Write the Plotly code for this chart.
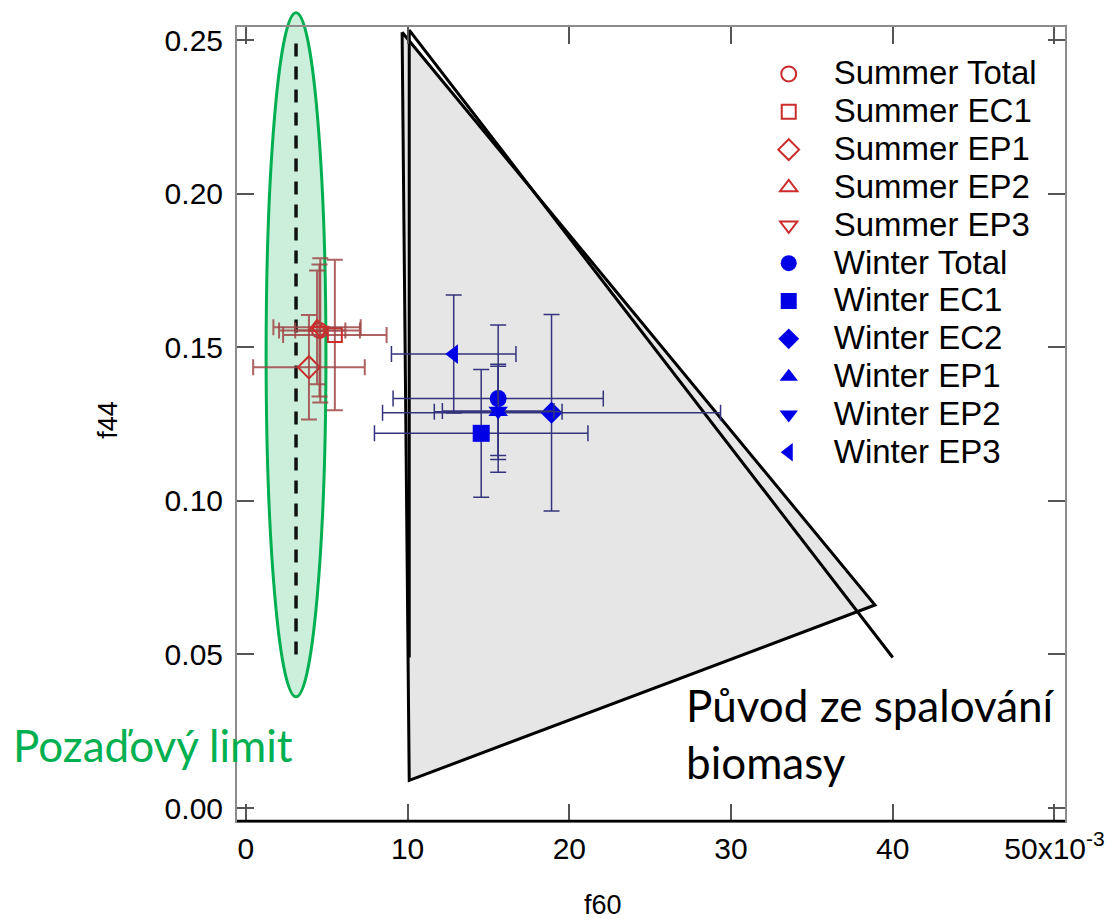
import plotly.graph_objects as go

# ---------------- data ----------------
series_names = ["Summer Total", "Summer EC1", "Summer EP1", "Summer EP2", "Summer EP3",
                "Winter Total", "Winter EC1", "Winter EC2", "Winter EP1", "Winter EP2", "Winter EP3"]
f60_values = [0.00455, 0.0055, 0.0039, 0.0044, 0.0046,
              0.0156, 0.01455, 0.0189, 0.0156, 0.0156, 0.01285]
f44_values = [0.1555, 0.1540, 0.1435, 0.1565, 0.1555,
              0.1333, 0.1220, 0.1287, 0.1290, 0.1293, 0.1478]
f60_errors = [0.0025, 0.0032, 0.00345, 0.0027, 0.00155,
              0.0065, 0.0066, 0.01045, 0.00395, 0.00345, 0.00385]
f44_errors = [0.0215, 0.0245, 0.0170, 0.0185, 0.0235,
              0.0240, 0.0208, 0.0320, 0.0155, 0.0145, 0.0192]

# biomass-burning triangle (filled, closed) and its outline "V"
bb_triangle_f60 = [0.00966, 0.0101, 0.0389, 0.00966]
bb_triangle_f44 = [0.2526, 0.0090, 0.0661, 0.2526]
bb_edge_f60 = [0.0400, 0.0101, 0.0101]
bb_edge_f44 = [0.0490, 0.2533, 0.0490]

# background limit (dashed line + ellipse)
bg_limit_f60 = [0.0031, 0.0031]
bg_limit_f44 = [0.0500, 0.2520]
bg_ellipse_f60 = [0.00125, 0.00495]
bg_ellipse_f44 = [0.0362, 0.2589]

x_tickvals = [0.0, 0.01, 0.02, 0.03, 0.04, 0.05]
x_ticktext = ["0", "10", "20", "30", "40", "50x10<sup>-3</sup>"]
y_tickvals = [0.0, 0.05, 0.10, 0.15, 0.20, 0.25]

# ---------------- styles ----------------
symbols = ["circle-open", "square-open", "diamond-open", "triangle-up-open", "triangle-down-open",
           "circle", "square", "diamond", "triangle-up", "triangle-down", "triangle-left"]
marker_sizes = [15, 14, 17, 15, 15, 17, 17, 17, 17, 17, 17]
SUMMER_C = "#cc2b2b"
WINTER_C = "#0000e6"
SUMMER_ERR = "rgba(160,70,70,0.85)"
WINTER_ERR = "#34347e"

X_RANGE = [-0.00055, 0.05065]
Y_RANGE = [-0.00423, 0.2543]
FONT = "Liberation Sans, Arial, sans-serif"

fig = go.Figure()

# grey triangle
fig.add_trace(go.Scatter(x=bb_triangle_f60, y=bb_triangle_f44, mode="lines", fill="toself",
                         fillcolor="#e6e6e6", line=dict(color="black", width=3),
                         showlegend=False, hoverinfo="skip"))
fig.add_trace(go.Scatter(x=bb_edge_f60, y=bb_edge_f44, mode="lines",
                         line=dict(color="black", width=3),
                         showlegend=False, hoverinfo="skip"))
# dashed background limit
fig.add_trace(go.Scatter(x=bg_limit_f60, y=bg_limit_f44, mode="lines",
                         line=dict(color="#111111", width=3.5, dash="13px,10px"),
                         showlegend=False, hoverinfo="skip"))

for i, name in enumerate(series_names):
    summer = name.startswith("Summer")
    mc = SUMMER_C if summer else WINTER_C
    ec = SUMMER_ERR if summer else WINTER_ERR
    fig.add_trace(go.Scatter(
        x=[f60_values[i]], y=[f44_values[i]], mode="markers",
        name=f'<span style="font-size:33px">{name}</span>',
        marker=dict(symbol=symbols[i], size=marker_sizes[i], color=mc,
                    line=dict(color=mc, width=2 if summer else 0)),
        error_x=dict(type="data", array=[f60_errors[i]], color=ec,
                     thickness=2 if summer else 1.5, width=8),
        error_y=dict(type="data", array=[f44_errors[i]], color=ec,
                     thickness=2 if summer else 1.5, width=8),
    ))

def ypaper(v):
    return (v - Y_RANGE[0]) / (Y_RANGE[1] - Y_RANGE[0])

shapes = [
    dict(type="circle", xref="x", yref="paper", layer="below",
         x0=bg_ellipse_f60[0], x1=bg_ellipse_f60[1],
         y0=ypaper(bg_ellipse_f44[0]), y1=ypaper(bg_ellipse_f44[1]),
         line=dict(color="#00b050", width=3), fillcolor="rgba(0,176,80,0.2)"),
    dict(type="line", xref="paper", yref="paper", x0=0, x1=1, y0=0, y1=0,
         line=dict(color="black", width=2.5)),
]

annotations = [
    dict(text="f44", xref="paper", yref="paper", x=-0.156, y=0.505, showarrow=False,
         xanchor="center", yanchor="middle",
         textangle=-90, font=dict(family=FONT, size=27, color="black")),
    dict(text="f60", xref="paper", yref="paper", x=0.442, y=-0.106, showarrow=False,
         xanchor="center", yanchor="middle",
         font=dict(family=FONT, size=27, color="black")),
    dict(text="Pozaďový limit", xref="paper", yref="paper", x=-0.2728, y=0.0957,
         xanchor="left", yanchor="middle", showarrow=False,
         font=dict(family="Lato, sans-serif", size=44, color="#00b050")),
    dict(text="Původ ze spalování<br>biomasy", xref="paper", yref="paper", x=0.5397, y=0.1098,
         xanchor="left", yanchor="middle", align="left", showarrow=False,
         font=dict(family="Lato, sans-serif", size=44, color="black")),
]

axis_common = dict(showgrid=False, zeroline=False, showline=True, linecolor="#8c8c8c",
                   linewidth=2, mirror="ticks", ticks="inside", ticklen=17, tickwidth=1.5,
                   tickcolor="#555555", tickfont=dict(family=FONT, size=30, color="black"))

fig.update_layout(
    width=1117, height=924,
    margin=dict(l=237, r=48, t=27, b=103),
    paper_bgcolor="white", plot_bgcolor="white",
    xaxis=dict(range=X_RANGE, tickvals=x_tickvals, ticktext=x_ticktext,
               ticklabelstandoff=0, **axis_common),
    yaxis=dict(range=Y_RANGE, tickvals=y_tickvals, tickformat=".2f",
               ticklabelstandoff=6, **axis_common),
    legend=dict(x=0.612, y=0.971, xanchor="left", yanchor="top", itemwidth=80,
                bgcolor="rgba(0,0,0,0)", font=dict(family=FONT, size=26.8, color="black"),
                traceorder="normal"),
    shapes=shapes, annotations=annotations,
    showlegend=True,
)

fig.write_html("out.html")
